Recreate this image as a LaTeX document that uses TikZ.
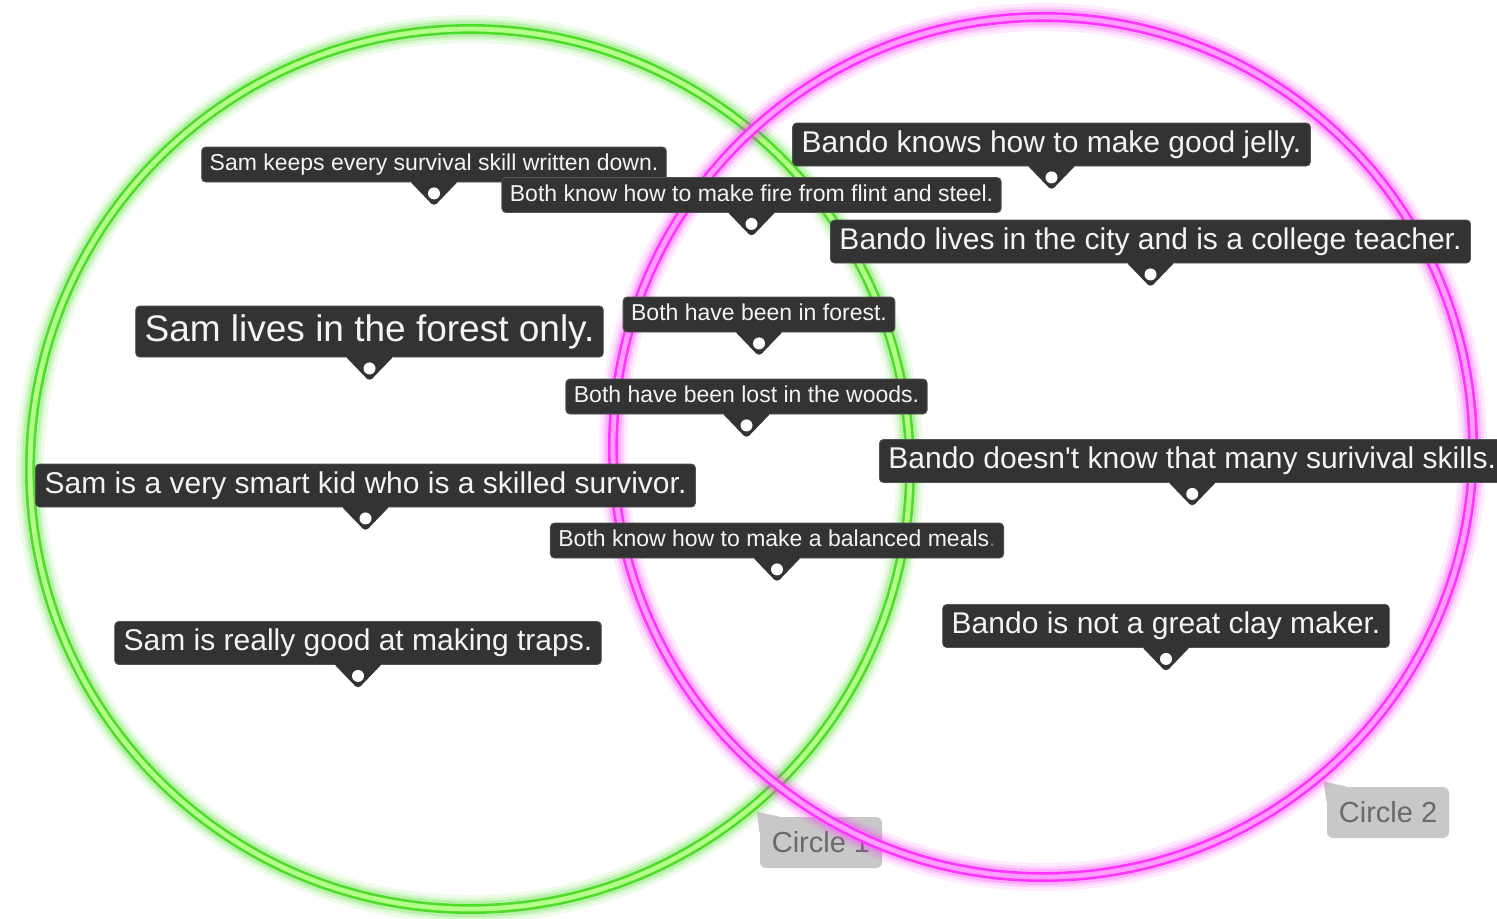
\documentclass[tikz,border=0pt]{standalone}
\usepackage{fontspec}
\setmainfont{Liberation Sans}[Ligatures=TeXOff]
\definecolor{note}{HTML}{333333}
\definecolor{notetext}{HTML}{F4F4F4}
\definecolor{greenring}{HTML}{4FDB2C}
\definecolor{greenlight}{HTML}{B4FF8A}
\definecolor{pinkring}{HTML}{FF33FF}
\definecolor{pinklight}{HTML}{FF9CFF}
\definecolor{tag}{HTML}{C8C8C8}
\definecolor{tagtext}{HTML}{6A6A6A}
\begin{document}
\begin{tikzpicture}[x=0.5pt,y=-0.5pt,
   note/.style={fill=note,text=notetext,draw=note!85!white,line width=0.4pt,
      rounded corners=2pt,inner xsep=4.5pt},
   small/.style={note,font=\fontsize{11.5}{13}\selectfont,inner xsep=4pt,
      text height=8.3pt,text depth=2.3pt,inner ysep=3.45pt},
   medium/.style={note,font=\fontsize{15}{17}\selectfont,
      text height=10.8pt,text depth=3pt,inner ysep=3.85pt},
   large/.style={note,font=\fontsize{18.5}{21}\selectfont,
      text height=13.3pt,text depth=3.7pt,inner ysep=4.25pt},
   tag/.style={fill=tag,text=tagtext,rounded corners=3pt,font=\fontsize{14.5}{17}\selectfont,
      minimum width=61pt,minimum height=25.5pt}]
   \path[use as bounding box,clip] (0,0) rectangle (1497,918);

   \foreach \w/\o in {14/0.1,10.5/0.14,8/0.22}
      \draw[color=greenring,line width=\w pt,opacity=\o] (470,469) circle[radius=220pt];
   \draw[color=greenring,line width=5pt] (470,469) circle[radius=220pt];
   \draw[color=greenlight,line width=2.4pt] (470,469) circle[radius=220pt];

   \node[tag] (circleone) at (821,842.5) {Circle 1};
   \fill[color=tag] ([shift={(-3,-5)}]circleone.north west) -- ([shift={(20,0)}]circleone.north west)
      -- ([shift={(0,16)}]circleone.north west) -- cycle;
   \node[tag] (circletwo) at (1388,812.5) {Circle 2};
   \fill[color=tag] ([shift={(-3,-5)}]circletwo.north west) -- ([shift={(20,0)}]circletwo.north west)
      -- ([shift={(0,16)}]circletwo.north west) -- cycle;

   \foreach \w/\o in {14/0.1,10.5/0.14,8/0.22}
      \draw[color=pinkring,line width=\w pt,opacity=\o] (1043,447) circle[radius=215pt];
   \draw[color=pinkring,line width=5pt] (1043,447) circle[radius=215pt];
   \draw[color=pinklight,line width=2.4pt] (1043,447) circle[radius=215pt];

   \node[small] (samnotes) at (434,164.5) {Sam keeps every survival skill written down.};
   \node[small] (bothfire) at (751.5,195) {Both know how to make fire from flint and steel.};
   \node[medium] (bandojelly) at (1051.5,144.5) {Bando knows how to make good jelly.};
   \node[medium] (bandocity) at (1150.5,241.5) {Bando lives in the city and is a college teacher.};
   \node[large] (samforest) at (369.5,331.5) {Sam lives in the forest only.};
   \node[small] (bothforest) at (759,314.5) {Both have been in forest.};
   \node[small] (bothlost) at (746.5,396.5) {Both have been lost in the woods.};
   \node[medium] (samsmart) at (365.5,485.5) {Sam is a very smart kid who is a skilled survivor.};
   \node[medium,anchor=west] (bandoskills) at (879,461) {Bando doesn't know that many surivival skills.};
   \node[small] (bothmeals) at (777,540.5) {Both know how to make a balanced meals{\color{notetext!35!note}.}};
   \node[medium] (samtraps) at (358,643) {Sam is really good at making traps.};
   \node[medium] (bandoclay) at (1166,626) {Bando is not a great clay maker.};

   \foreach \n in {samnotes,bothfire,bandojelly,bandocity,samforest,bothforest,
      bothlost,samsmart,bandoskills,bothmeals,samtraps,bandoclay}{
      \fill[color=note,rounded corners=2pt] ([shift={(-25,-2)}]\n.south)
         -- ([shift={(0,24)}]\n.south) -- ([shift={(25,-2)}]\n.south) -- cycle;
      \fill[color=white] ([shift={(0,11)}]\n.south) circle[radius=3pt];
   }
\end{tikzpicture}
\end{document}
